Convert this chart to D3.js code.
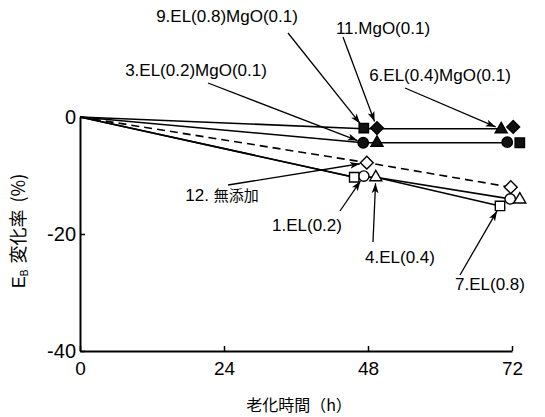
<!DOCTYPE html>
<html><head><meta charset="utf-8">
<script src="https://cdn.jsdelivr.net/npm/d3@7"></script>
<style>body{margin:0;background:#fff} svg{display:block}</style>
</head><body><svg id="c" width="545" height="417"></svg>
<script>
// ---- data ----
const seriesLabels = ["1.EL(0.2)", "3.EL(0.2)MgO(0.1)", "4.EL(0.4)", "6.EL(0.4)MgO(0.1)",
                      "7.EL(0.8)", "9.EL(0.8)MgO(0.1)", "11.MgO(0.1)", "12. 無添加"];
const seriesShape  = ["circle", "circle", "triangle", "triangle", "square", "square", "diamond", "diamond"];
const seriesFilled = [false, true, false, true, false, true, true, false];
// plotted position of each marker near 48 h (markers are drawn side by side in the original)
const hoursAt48  = [47.3, 47.2, 49.3, 49.5, 45.7, 47.3, 49.5, 47.8];
const changeAt48 = [-10.1, -4.4, -10.3, -4.4, -10.3, -1.9, -1.9, -7.8];
// plotted position of each marker near 72 h
const hoursAt72  = [71.7, 71.2, 73.3, 70.2, 70.0, 73.3, 72.2, 71.8];
const changeAt72 = [-14.0, -4.3, -14.1, -2.1, -15.2, -4.4, -1.7, -12.0];

// drawn connecting lines [hours, change]
const lineMgOUpper = [[0, 0], [47.3, -2.0], [70.2, -2.0]];
const lineMgOLower = [[0, 0], [47.2, -4.4], [71.2, -4.4]];
const lineNoAdd    = [[0, 0], [47.8, -7.8], [71.8, -12.0]];
const lineELa      = [[0, 0], [45.7, -10.3], [49.3, -10.3], [71.7, -14.0]];
const lineELb      = [[0, 0], [45.7, -10.3], [49.3, -10.3], [70.0, -15.2]];

const xTicks = [0, 24, 48, 72];
const yTicks = [0, -20, -40];
const xTitle = "老化時間（h）";

// ---- layout ----
const W = 545, H = 417;
const x = d3.scaleLinear().domain([0, 72]).range([80, 512]);
const y = d3.scaleLinear().domain([-40, 0]).range([351, 117]);
const svg = d3.select("#c");
const FONT = "'Liberation Sans', Arial, sans-serif";
const CJK = "'Noto Sans CJK JP', 'Noto Sans CJK SC', sans-serif";

svg.append("defs").append("marker")
  .attr("id", "ah").attr("viewBox", "0 0 10 8").attr("refX", 10).attr("refY", 4)
  .attr("markerWidth", 10).attr("markerHeight", 8).attr("markerUnits", "userSpaceOnUse")
  .attr("orient", "auto")
  .append("path").attr("d", "M0,0.5 L10,4 L0,7.5 L2.5,4 Z").attr("fill", "#000");

// axes
const gx = svg.append("g").attr("transform", `translate(0,${y(-40)})`)
  .call(d3.axisBottom(x).tickValues(xTicks).tickSize(-5).tickSizeOuter(0).tickPadding(11)
        .tickFormat(d => String(d)));
const gy = svg.append("g").attr("transform", `translate(${x(0)},0)`)
  .call(d3.axisLeft(y).tickValues(yTicks).tickSize(-5).tickSizeOuter(0).tickPadding(4)
        .tickFormat(d => String(d)));
[gx, gy].forEach(g => {
  g.select(".domain").attr("stroke", "#000").attr("stroke-width", 2);
  g.selectAll(".tick line").attr("stroke", "#000").attr("stroke-width", 1.5);
  g.selectAll(".tick text").attr("fill", "#000").attr("font-family", FONT);
});
gx.selectAll(".tick text").attr("font-size", 19);
gy.selectAll(".tick text").attr("font-size", 20);

// axis titles
svg.append("text").attr("x", 299).attr("y", 411).attr("text-anchor", "middle")
  .attr("font-family", CJK).attr("font-size", 16).attr("fill", "#000").text(xTitle);
const yt = svg.append("text").attr("transform", "translate(25,231) rotate(-90)")
  .attr("text-anchor", "middle").attr("font-family", CJK).attr("font-size", 18).attr("fill", "#000");
yt.append("tspan").attr("font-family", FONT).text("E");
yt.append("tspan").attr("font-family", FONT).attr("font-size", 10).attr("dy", 3).text("B");
yt.append("tspan").attr("dy", -3).attr("dx", 6).text("変化率");
yt.append("tspan").attr("dx", 7).text("(%)");

// lines
const line = d3.line().x(d => x(d[0])).y(d => y(d[1]));
[lineMgOUpper, lineMgOLower, lineELa, lineELb].forEach(l =>
  svg.append("path").attr("d", line(l)).attr("fill", "none").attr("stroke", "#000").attr("stroke-width", 1.6));
svg.append("path").attr("d", line(lineNoAdd)).attr("fill", "none").attr("stroke", "#000")
  .attr("stroke-width", 1.6).attr("stroke-dasharray", "8,5");

// markers
const symType = {circle: d3.symbolCircle, triangle: d3.symbolTriangle, square: d3.symbolSquare, diamond: d3.symbolSquare};
const symSize = {circle: 85, triangle: 62, square: 88, diamond: 82};
const pts = [];
seriesLabels.forEach((lab, i) => {
  pts.push({i, hx: hoursAt48[i], v: changeAt48[i]});
  pts.push({i, hx: hoursAt72[i], v: changeAt72[i]});
});
svg.append("g").selectAll("path").data(pts).join("path")
  .attr("d", d => d3.symbol().type(symType[seriesShape[d.i]]).size(symSize[seriesShape[d.i]])())
  .attr("transform", d => `translate(${x(d.hx)},${y(d.v)})` + (seriesShape[d.i] === "diamond" ? " rotate(45)" : ""))
  .attr("fill", d => seriesFilled[d.i] ? "#111" : "#fff")
  .attr("stroke", "#000").attr("stroke-width", 1.4);

// annotations: label centre, arrow tail, and which marker the arrow points to
const notes = [
  {s: 5, at: 48, tx: 227, ty: 16,  ax: 288, ay: 33},
  {s: 6, at: 48, tx: 383, ty: 28,  ax: 343, ay: 37},
  {s: 1, at: 48, tx: 196, ty: 70,  ax: 208, ay: 83},
  {s: 3, at: 72, tx: 440, ty: 75,  ax: 405, ay: 88},
  {s: 7, at: 48, tx: 222, ty: 195, ax: 228, ay: 185},
  {s: 0, at: 48, tx: 307, ty: 225, ax: 340, ay: 211},
  {s: 2, at: 48, tx: 400, ty: 257, ax: 373, ay: 242},
  {s: 4, at: 72, tx: 490, ty: 284, ax: 460, ay: 275}
];
notes.forEach(n => {
  const mx = x(n.at === 48 ? hoursAt48[n.s] : hoursAt72[n.s]);
  const my = y(n.at === 48 ? changeAt48[n.s] : changeAt72[n.s]);
  const dx = n.ax - mx, dy = n.ay - my, L = Math.hypot(dx, dy);
  const gap = seriesShape[n.s] === "diamond" ? 7 : 6;
  svg.append("line").attr("x1", n.ax).attr("y1", n.ay)
    .attr("x2", mx + dx / L * gap).attr("y2", my + dy / L * gap)
    .attr("stroke", "#000").attr("stroke-width", 1.3).attr("marker-end", "url(#ah)");
  const lab = seriesLabels[n.s];
  const t = svg.append("text").attr("x", n.tx).attr("y", n.ty).attr("dy", "0.36em")
    .attr("text-anchor", "middle").attr("font-size", 17).attr("fill", "#000");
  if (/[\u3040-\u9fff]/.test(lab)) {
    const m = lab.match(/^([0-9. ]+)(.*)$/);
    t.append("tspan").attr("font-family", FONT).text(m[1]);
    t.append("tspan").attr("font-family", CJK).attr("font-size", 15).text(m[2]);
  } else {
    t.attr("font-family", FONT).text(lab);
  }
});
</script></body></html>
